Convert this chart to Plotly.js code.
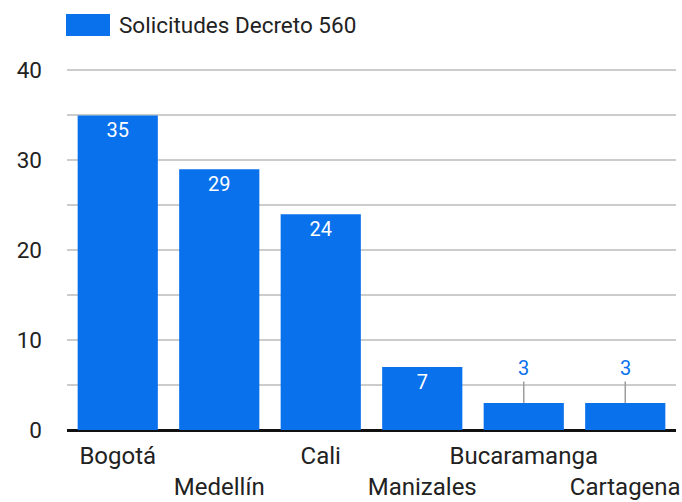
<!DOCTYPE html>
<html>
<head>
<meta charset="utf-8">
<script src="https://cdn.plot.ly/plotly-3.0.1.min.js"></script>
<style>
  body { margin: 0; background: #fff; }
  #chart { width: 682px; height: 502px; }
</style>
</head>
<body>
<div id="chart"></div>
<script>
const cities = ['Bogotá', 'Medellín', 'Cali', 'Manizales', 'Bucaramanga', 'Cartagena'];
const requests = [35, 29, 24, 7, 3, 3];
const seriesName = 'Solicitudes Decreto 560';
const barColor = '#0a71ec';
const fontFamily = 'Roboto, Arial, sans-serif';

// small bars get their label above with a leader line, like the sheet does
const insideMin = 5;

// alternate tick labels go on a second row
const tickText = cities.map((c, i) => i % 2 == 1 ? '<br>' + c : c);

const barData = [
    {
        x: cities,
        y: requests,
        type: 'bar',
        name: seriesName,
        marker: { color: barColor },
        text: requests.map(v => v >= insideMin ? String(v) : ''),
        textposition: 'inside',
        insidetextanchor: 'end',
        insidetextfont: { color: '#ffffff', size: 20, family: fontFamily },
        constraintext: 'none',
        hoverinfo: 'none'
    }
];

const smallLabels = [];
for (let i = 0; i < cities.length; i++) {
    if (requests[i] < insideMin) {
        smallLabels.push({
            x: cities[i],
            y: requests[i],
            xref: 'x',
            yref: 'y',
            text: String(requests[i]),
            showarrow: true,
            arrowhead: 0,
            arrowwidth: 1.5,
            arrowcolor: '#9e9e9e',
            ax: 0,
            ay: -35,
            font: { color: barColor, size: 20, family: fontFamily }
        });
    }
}

// legend drawn by hand so the swatch matches the wide rectangle
const legendText = {
    x: 0, y: 1, xref: 'paper', yref: 'paper',
    text: seriesName, showarrow: false,
    xanchor: 'left', yanchor: 'middle',
    font: { color: '#222222', size: 22.5, family: fontFamily }
};

const layout = {
    width: 682,
    height: 502,
    margin: { l: 67, r: 6, t: 66, b: 72 },
    paper_bgcolor: '#ffffff',
    plot_bgcolor: '#ffffff',
    showlegend: false,
    bargap: 0.21,
    font: { family: fontFamily, size: 22.5, color: '#222222' },
    xaxis: {
        tickvals: cities,
        ticktext: tickText,
        tickangle: 0,
        tickfont: { size: 24 },
        ticklabelstandoff: 9,
        showgrid: false,
        showline: false,
        ticks: '',
        automargin: false,
        fixedrange: true
    },
    yaxis: {
        range: [0, 40.5],
        tickvals: [0, 10, 20, 30, 40],
        showgrid: true,
        gridcolor: '#cccccc',
        gridwidth: 2,
        minor: { dtick: 5, showgrid: true, gridcolor: '#cccccc', gridwidth: 2 },
        zeroline: true,
        zerolinecolor: '#111111',
        zerolinewidth: 3,
        ticks: '',
        ticklabelstandoff: 24,
        automargin: false,
        fixedrange: true
    },
    shapes: [],
    annotations: smallLabels
};

Plotly.newPlot('chart', barData, layout, { staticPlot: true }).then(function (gd) {
    // place the legend swatch and text in pixel space above the plot
    const fs = gd._fullLayout._size;
    const toPx = (px, py) => ({ x: (px - fs.l) / fs.w, y: 1 - (py - fs.t) / fs.h });
    const a = toPx(66, 14), b = toPx(110, 36), t = toPx(117, 25);
    Plotly.relayout(gd, {
        shapes: [{ type: 'rect', xref: 'paper', yref: 'paper', x0: a.x, x1: b.x, y0: b.y, y1: a.y,
            fillcolor: barColor, line: { width: 0 } }],
        annotations: smallLabels.concat([Object.assign({}, legendText, { x: t.x, y: t.y })])
    });
});
</script>
</body>
</html>
